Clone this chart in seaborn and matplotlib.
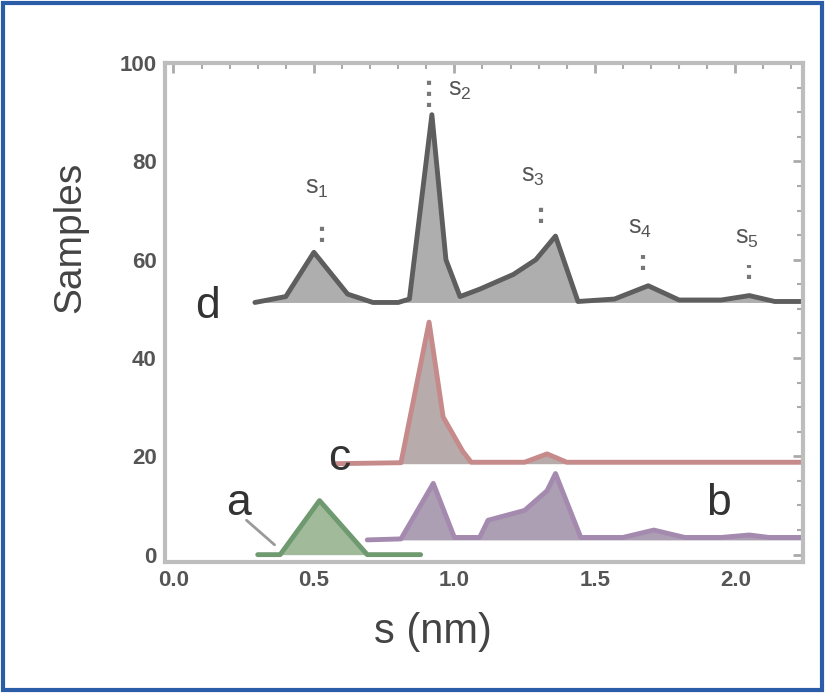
import numpy as np
import pandas as pd
import seaborn as sns
import matplotlib.pyplot as plt
from matplotlib.patches import Rectangle

# curve values (s in nm, samples)
a_s = [0.30, 0.38, 0.52, 0.69, 0.88]
a_n = [0.0, 0.0, 11.0, 0.0, 0.0]

b_s = [0.69, 0.81, 0.925, 1.00, 1.09, 1.12, 1.25, 1.33, 1.36, 1.45, 1.60, 1.71, 1.82, 1.95, 2.05, 2.12, 2.24]
b_n = [3.0, 3.2, 14.5, 3.5, 3.5, 7.0, 9.0, 13.0, 16.5, 3.5, 3.5, 5.0, 3.5, 3.5, 4.0, 3.5, 3.5]

c_s = [0.57, 0.81, 0.91, 0.96, 1.03, 1.06, 1.25, 1.33, 1.40, 2.24]
c_n = [18.5, 18.7, 47.3, 28.0, 21.0, 18.8, 18.8, 20.5, 18.8, 18.8]

d_s = [0.29, 0.40, 0.50, 0.62, 0.71, 0.80, 0.84, 0.92, 0.97, 1.02, 1.09, 1.21, 1.29, 1.36, 1.44, 1.57, 1.69, 1.80, 1.95, 2.05, 2.14, 2.24]
d_n = [51.3, 52.5, 61.5, 53.0, 51.3, 51.3, 52.0, 89.5, 60.0, 52.5, 54.0, 57.0, 60.0, 64.8, 51.5, 52.0, 54.7, 51.8, 51.8, 52.7, 51.5, 51.5]

curve_names = ["a", "b", "c", "d"]
curve_base = [0.0, 3.0, 18.5, 51.3]
line_colors = ["#6f9a70", "#a48aae", "#c78a8a", "#5e5e5e"]
fill_colors = ["#8fae88", "#9f8ea6", "#ab9c9c", "#a0a0a0"]

# peak labels on curve d
peak_names = ["1", "2", "3", "4", "5"]
label_x = [0.51, 1.02, 1.28, 1.66, 2.04]
label_y = [74.5, 94.5, 77.0, 66.5, 64.5]
guide_x = [0.53, 0.91, 1.31, 1.67, 2.05]
guide_lo = [63.5, 91.0, 67.5, 58.0, 56.0]
guide_hi = [68.0, 97.0, 71.0, 61.0, 59.0]

df = pd.concat([
    pd.DataFrame({"s": a_s, "n": a_n, "curve": "a"}),
    pd.DataFrame({"s": b_s, "n": b_n, "curve": "b"}),
    pd.DataFrame({"s": c_s, "n": c_n, "curve": "c"}),
    pd.DataFrame({"s": d_s, "n": d_n, "curve": "d"}),
])

sns.set_theme(style="white")
plt.rcParams["font.family"] = ["Liberation Sans", "DejaVu Sans"]

fig = plt.figure(figsize=(8.25, 6.93), dpi=100)
ax = fig.add_axes([0.2, 0.189, 0.773, 0.72])

for name, base, lc, fc in zip(curve_names, curve_base, line_colors, fill_colors):
    sub = df[df["curve"] == name]
    ax.fill_between(sub["s"], base, sub["n"], color=fc, alpha=0.85, lw=0)

sns.lineplot(data=df, x="s", y="n", hue="curve", palette=dict(zip(curve_names, line_colors)),
             sort=False, estimator=None, lw=3.5, legend=False, ax=ax)

# curve letters
ax.text(0.12, 50.5, "d", fontsize=32, color="#333333", ha="center", va="center")
ax.text(0.59, 19.5, "c", fontsize=32, color="#333333", ha="center", va="center")
ax.text(0.23, 10.5, "a", fontsize=32, color="#333333", ha="center", va="center")
ax.text(1.94, 10.5, "b", fontsize=32, color="#333333", ha="center", va="center")
ax.plot([0.26, 0.36], [7.0, 2.0], color="#9a9a9a", lw=2)

# peak labels with dotted guides
for lx, ly, gx, lo, hi, pn in zip(label_x, label_y, guide_x, guide_lo, guide_hi, peak_names):
    ax.vlines(gx, lo, hi, colors="#777777", linestyles=":", lw=3)
    ax.text(lx, ly, r"$\mathregular{s_%s}$" % pn, fontsize=18, color="#555555",
            ha="center", va="center")

ax.set_xlim(-0.03, 2.24)
ax.set_ylim(-1.5, 99.5)
ax.set_xticks([0.0, 0.5, 1.0, 1.5, 2.0])
ax.set_xticklabels(["0.0", "0.5", "1.0", "1.5", "2.0"])
ax.set_yticks([0, 20, 40, 60, 80, 100])
ax.minorticks_on()
ax.tick_params(which="both", direction="in", top=True, right=True, color="#aaaaaa",
               labelcolor="#555555", labelsize=16)
ax.tick_params(which="major", length=7, width=2, pad=6)
ax.tick_params(which="minor", length=4, width=1.5)
for lab in ax.get_xticklabels() + ax.get_yticklabels():
    lab.set_fontweight("bold")
for sp in ax.spines.values():
    sp.set_color("#bdbdbd")
    sp.set_linewidth(3)

ax.set_xlabel("s (nm)", fontsize=30, color="#444444")
ax.set_ylabel("Samples", fontsize=28, color="#444444")
ax.xaxis.set_label_coords(0.42, -0.10)
ax.yaxis.set_label_coords(-0.12, 0.65)

fig.patches.append(Rectangle((0.004, 0.004), 0.992, 0.992, transform=fig.transFigure,
                             fill=False, edgecolor="#2a5ca8", lw=3))

fig.savefig("out.png", dpi=100)
